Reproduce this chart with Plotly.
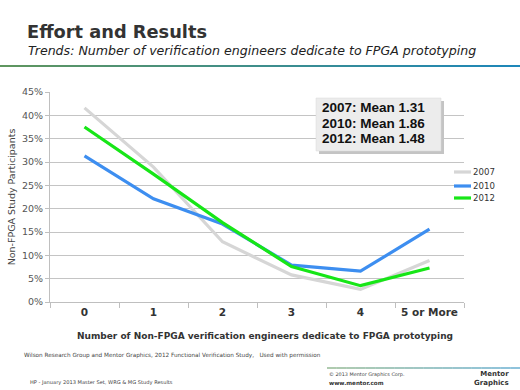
import plotly.graph_objects as go

categories = ["0", "1", "2", "3", "4", "5 or More"]
s2007 = [41.6, 28.9, 12.9, 5.8, 2.7, 8.9]
s2010 = [31.3, 22.1, 16.7, 7.9, 6.6, 15.6]
s2012 = [37.5, 27.4, 17.0, 7.6, 3.5, 7.3]
series_names = ["2007", "2010", "2012"]
series_means = [1.31, 1.86, 1.48]
series_colors = ["#d6d6d6", "#3d8ef0", "#17e617"]
y_ticks = [0, 5, 10, 15, 20, 25, 30, 35, 40, 45]

W, H = 520, 390
L, R, T, B = 50, 464, 92, 302

def px(x):
    return (x - L) / (R - L)

def py(y):
    return (B - y) / (B - T)

fig = go.Figure()
for name, vals, col in zip(series_names, [s2007, s2010, s2012], series_colors):
    fig.add_trace(go.Scatter(
        x=categories, y=vals, name=name, mode="lines",
        line=dict(color=col, width=3.2), showlegend=False,
    ))

shapes = []
# header gradient line
n = 40
c0 = (95, 150, 95)
c1 = (30, 135, 185)
for i in range(n):
    t = i / (n - 1)
    c = tuple(int(c0[k] + (c1[k] - c0[k]) * t) for k in range(3))
    x0 = i * W / n
    x1 = (i + 1) * W / n
    shapes.append(dict(type="rect", xref="paper", yref="paper",
                       x0=px(x0), x1=px(x1), y0=py(67), y1=py(65),
                       line=dict(width=0), fillcolor="rgb(%d,%d,%d)" % c, layer="above"))
# footer gradient line
n2 = 20
for i in range(n2):
    t = i / (n2 - 1)
    c = tuple(int(c0[k] + (c1[k] - c0[k]) * t) for k in range(3))
    x0 = 327 + i * (520 - 327) / n2
    x1 = 327 + (i + 1) * (520 - 327) / n2
    shapes.append(dict(type="rect", xref="paper", yref="paper",
                       x0=px(x0), x1=px(x1), y0=py(368.5), y1=py(367.5),
                       line=dict(width=0), fillcolor="rgb(%d,%d,%d)" % c, layer="above"))
# annotation box shadow and box
shapes.append(dict(type="rect", xref="paper", yref="paper",
                   x0=px(319), x1=px(444), y0=py(154), y1=py(101),
                   line=dict(width=0), fillcolor="#c4c4c4", layer="above"))
shapes.append(dict(type="rect", xref="paper", yref="paper",
                   x0=px(316), x1=px(441), y0=py(151), y1=py(98),
                   line=dict(width=0.5, color="#d8d8d8"), fillcolor="#ececec", layer="above"))

annotations = [
    dict(text="<b>Effort and Results</b>", x=px(25), y=py(32), xref="paper", yref="paper",
         xanchor="left", yanchor="middle", showarrow=False,
         font=dict(family="DejaVu Sans", size=17.8, color="#333333")),
    dict(text="<i>Trends: Number of verification engineers dedicate to FPGA prototyping</i>",
         x=px(26), y=py(50), xref="paper", yref="paper",
         xanchor="left", yanchor="middle", showarrow=False,
         font=dict(family="DejaVu Sans", size=12.6, color="#222222")),
    dict(text="<b>Number of Non-FPGA verification engineers dedicate to FPGA prototyping</b>",
         x=px(265), y=py(336), xref="paper", yref="paper",
         xanchor="center", yanchor="middle", showarrow=False,
         font=dict(family="DejaVu Sans", size=9, color="#333333")),
    dict(text="Wilson Research Group and Mentor Graphics, 2012 Functional Verification Study,   Used with permission",
         x=px(22), y=py(355), xref="paper", yref="paper",
         xanchor="left", yanchor="middle", showarrow=False,
         font=dict(family="DejaVu Sans", size=5.7, color="#444444")),
    dict(text="HP - January 2013 Master Set, WRG &amp; MG Study Results",
         x=px(28), y=py(382), xref="paper", yref="paper",
         xanchor="left", yanchor="middle", showarrow=False,
         font=dict(family="DejaVu Sans", size=5.1, color="#444444")),
    dict(text="© 2013 Mentor Graphics Corp.",
         x=px(327), y=py(374), xref="paper", yref="paper",
         xanchor="left", yanchor="middle", showarrow=False,
         font=dict(family="DejaVu Sans", size=4.9, color="#444444")),
    dict(text="<b>www.mentor.com</b>",
         x=px(327), y=py(383), xref="paper", yref="paper",
         xanchor="left", yanchor="middle", showarrow=False,
         font=dict(family="DejaVu Sans", size=5.6, color="#333333")),
    dict(text="<b>Mentor<br>Graphics</b>",
         x=px(511), y=py(378), xref="paper", yref="paper", align="right",
         xanchor="right", yanchor="middle", showarrow=False,
         font=dict(family="DejaVu Sans", size=7, color="#333333")),
]

# mean box lines
for i, (name, m) in enumerate(zip(series_names, series_means)):
    annotations.append(dict(text="<b>%s: Mean %.2f</b>" % (name, m),
                            x=px(320), y=py(108 + 15 * i), xref="paper", yref="paper",
                            xanchor="left", yanchor="middle", showarrow=False,
                            font=dict(family="Liberation Sans", size=13.5, color="#111111")))

# legend (manual, short keys)
leg_y = [172, 186, 198]
for name, col, yy in zip(series_names, series_colors, leg_y):
    shapes.append(dict(type="line", xref="paper", yref="paper",
                       x0=px(454), x1=px(471), y0=py(yy), y1=py(yy),
                       line=dict(color=col, width=3.2), layer="above"))
    annotations.append(dict(text=name, x=px(471), y=py(yy), xref="paper", yref="paper",
                            xanchor="left", yanchor="middle", showarrow=False,
                            font=dict(family="DejaVu Sans", size=8.6, color="#333333")))

fig.update_layout(
    width=W, height=H,
    margin=dict(l=L, r=W - R, t=T, b=H - B, pad=0, autoexpand=False),
    paper_bgcolor="white", plot_bgcolor="white",
    font=dict(family="DejaVu Sans", color="#444444"),
    showlegend=False,
    xaxis=dict(type="category", range=[-0.5, 5.5], showgrid=False,
               showline=True, linecolor="#bfbfbf", linewidth=1,
               ticks="outside", tickson="boundaries", ticklen=5, tickcolor="#bfbfbf",
               tickfont=dict(family="DejaVu Sans", size=10.5, color="#333333", weight="bold"),
               tickangle=0, automargin=False,
               fixedrange=True),
    yaxis=dict(range=[0, 45], tickvals=y_ticks, ticktext=["%d%%" % v for v in y_ticks],
               showgrid=True, gridcolor="#c4c4c4", gridwidth=1,
               showline=True, linecolor="#bfbfbf", linewidth=1,
               ticks="outside", ticklen=4, tickcolor="#bfbfbf",
               tickfont=dict(family="DejaVu Sans", size=9.5, color="#555555"),
               zeroline=False, automargin=False,
               title=dict(text="Non-FPGA Study Participants", standoff=4,
                          font=dict(family="DejaVu Sans", size=9.5, color="#444444")),
               fixedrange=True),
    shapes=shapes,
    annotations=annotations,
)

fig.write_html("out.html", config={"displayModeBar": False},
               post_script="document.body.style.margin='0';document.body.style.overflow='hidden';")
